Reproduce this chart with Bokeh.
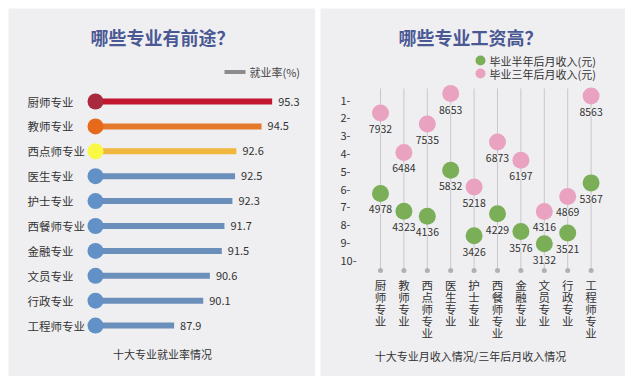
from bokeh.plotting import figure
from bokeh.layouts import row
from bokeh.models import Range1d
from bokeh.core.properties import value
from bokeh.embed import file_html
from bokeh.resources import INLINE

# ---------------- data ----------------
majors = ["厨师专业", "教师专业", "西点师专业", "医生专业", "护士专业",
          "西餐师专业", "金融专业", "文员专业", "行政专业", "工程师专业"]
employment_rate = [95.3, 94.5, 92.6, 92.5, 92.3, 91.7, 91.5, 90.6, 90.1, 87.9]

salary_half_year = [4978, 4323, 4136, 5832, 3426, 4229, 3576, 3132, 3521, 5367]
salary_three_year = [7932, 6484, 7535, 8653, 5218, 6873, 6197, 4316, 4869, 8563]

rank_ticks = [1, 2, 3, 4, 5, 6, 7, 8, 9, 10]
rank_labels = ["1-", "2-", "3-", "4-", "5-", "6-", "7-", "8-", "9-", "10-"]

left_title = "哪些专业有前途？"
left_legend = "就业率(%)"
left_footer = "十大专业就业率情况"
right_title = "哪些专业工资高？"
right_legend = ["毕业半年后月收入(元)", "毕业三年后月收入(元)"]
right_footer = "十大专业月收入情况/三年后月收入情况"

# ---------------- styles ----------------
BG = "#efeff1"
FONT = value("Noto Sans CJK SC")
TITLE_C = "#4a5894"
TEXT_C = "#333333"
bar_colors = ["#c3162f", "#e57a2c", "#efb73e"] + ["#6b8fbb"] * 7
dot_colors = ["#a82a3c", "#e66a1a", "#f9f945"] + ["#6191c6"] * 7
GREEN = "#7aaf58"
PINK = "#e9a3c0"
LINE_C = "#c8c8cc"

# ---------------- left panel ----------------
LW, H = 307, 368
def lx(px):  # page px -> data x (employment rate)
    return 91.9 + (px - 226.6) / 13.25
def ly(py):  # page px -> row index
    return (py - 101) / 24.9

p1 = figure(width=LW, height=H, output_backend="svg", toolbar_location=None,
            x_range=Range1d(lx(8), lx(8 + LW)), y_range=Range1d(ly(8 + H), ly(8)),
            x_axis_location=None, y_axis_location=None, min_border=0,
            background_fill_color=BG, border_fill_color=BG, outline_line_color=None)
p1.grid.visible = False

rows = list(range(len(majors)))
bar_start = lx(95)
p1.hbar(y=rows, left=bar_start, right=employment_rate, height=6 / 24.9,
        fill_color=bar_colors, line_color=None)
p1.scatter(x=[bar_start] * len(rows), y=rows, size=16, fill_color=dot_colors, line_color=None)
p1.text(x=[lx(27)] * len(rows), y=rows, text=majors, text_font=FONT, text_font_size="11.5px",
        text_color=TEXT_C, text_align="left", text_baseline="middle")
p1.text(x=employment_rate, y=rows, text=[f"{v:.1f}" for v in employment_rate], x_offset=6,
        text_font=FONT, text_font_size="11px", text_color=TEXT_C,
        text_align="left", text_baseline="middle")

p1.text(x=[lx(162)], y=[ly(36)], text=[left_title], text_font=FONT, text_font_size="18px",
        text_font_style="bold", text_color=TITLE_C, text_align="center", text_baseline="middle")
p1.segment(x0=[lx(224)], x1=[lx(245)], y0=[ly(71.5)], y1=[ly(71.5)], line_width=4, line_color="#8c8c8c")
p1.text(x=[lx(249)], y=[ly(71.5)], text=[left_legend], text_font=FONT, text_font_size="11px",
        text_color="#444444", text_align="left", text_baseline="middle")
p1.text(x=[lx(162)], y=[ly(353)], text=[left_footer], text_font=FONT, text_font_size="11px",
        text_color=TEXT_C, text_align="center", text_baseline="middle")

# ---------------- right panel ----------------
RW = 305
RX0 = 320
def rx(px):
    return (px - 380) / 23.4
def ry(py):  # page px -> salary
    return 8653 - (py - 93) / 0.0272
def rr(py):  # page px -> rank
    return 1 + (py - 100) / 17.8

p2 = figure(width=RW, height=H, output_backend="svg", toolbar_location=None,
            x_range=Range1d(rx(RX0), rx(RX0 + RW)), y_range=Range1d(ry(8 + H), ry(8)),
            x_axis_location=None, y_axis_location=None, min_border=0,
            background_fill_color=BG, border_fill_color=BG, outline_line_color=None)
p2.grid.visible = False
p2.extra_y_ranges = {"rank": Range1d(rr(8 + H), rr(8))}

cols = list(range(len(majors)))
p2.segment(x0=cols, x1=cols, y0=[rr(88)] * len(cols), y1=[rr(270)] * len(cols),
           line_color=LINE_C, line_width=1, y_range_name="rank")
p2.scatter(x=cols, y=[rr(270)] * len(cols), size=5, fill_color="#b0b0b4", line_color=None,
           y_range_name="rank")
p2.text(x=cols, y=[rr(276)] * len(cols), text=["\n".join(m) for m in majors],
        text_font=FONT, text_font_size="11.5px", text_color=TEXT_C, text_line_height=0.76,
        text_align="center", text_baseline="top", y_range_name="rank")
p2.text(x=[rx(340)] * len(rank_ticks), y=rank_ticks, text=rank_labels, text_font=FONT,
        text_font_size="11px", text_color=TEXT_C, text_align="left", text_baseline="middle",
        y_range_name="rank")

p2.scatter(x=cols, y=salary_three_year, size=17, fill_color=PINK, line_color=None)
p2.scatter(x=cols, y=salary_half_year, size=17, fill_color=GREEN, line_color=None)
for vals in (salary_three_year, salary_half_year):
    p2.text(x=cols, y=vals, text=[str(v) for v in vals], y_offset=16, text_font=FONT,
            text_font_size="10.5px", text_color=TEXT_C, text_align="center",
            text_baseline="middle", background_fill_color=BG)

p2.text(x=[rx(470)], y=[ry(36)], text=[right_title], text_font=FONT, text_font_size="18px",
        text_font_style="bold", text_color=TITLE_C, text_align="center", text_baseline="middle")
p2.scatter(x=[rx(480)] * 2, y=[ry(60), ry(73)], size=10, fill_color=[GREEN, PINK], line_color=None)
p2.text(x=[rx(489)] * 2, y=[ry(60), ry(73)], text=right_legend, text_font=FONT,
        text_font_size="11px", text_color=TEXT_C, text_align="left", text_baseline="middle")
p2.text(x=[rx(470)], y=[ry(355)], text=[right_footer], text_font=FONT, text_font_size="11px",
        text_color=TEXT_C, text_align="center", text_baseline="middle")

layout = row(p1, p2, spacing=5, margin=(8, 0, 0, 8))
open("out.html", "w").write(file_html(layout, INLINE))
